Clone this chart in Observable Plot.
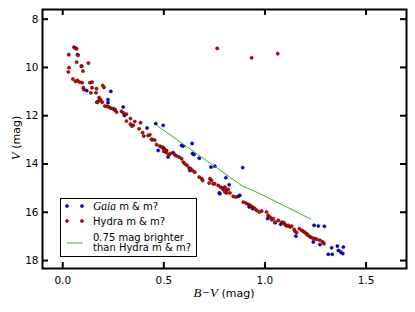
<!DOCTYPE html>
<html>
<head>
<meta charset="utf-8">
<script src="https://cdn.jsdelivr.net/npm/d3@7"></script>
<script src="https://cdn.jsdelivr.net/npm/@observablehq/plot@0.6"></script>
<style>
  html, body { margin: 0; padding: 0; background: #fff; }
  svg { display: block; }
</style>
</head>
<body>
<script>
// Hydra members (B-V, V)
const hydraBV = [0.056,0.063,0.069,0.076,0.030,0.069,0.127,0.093,0.031,0.100,0.028,0.050,0.063,0.073,0.083,0.096,0.134,0.145,0.102,0.105,0.145,0.139,0.167,0.198,0.204,0.165,0.180,0.180,0.170,0.195,0.208,0.228,0.238,0.249,0.257,0.187,0.219,0.259,0.266,0.291,0.299,0.315,0.335,0.356,0.315,0.335,0.348,0.342,0.385,0.378,0.395,0.401,0.422,0.442,0.455,0.431,0.439,0.464,0.480,0.489,0.497,0.500,0.505,0.513,0.500,0.513,0.526,0.533,0.554,0.563,0.576,0.588,0.596,0.604,0.615,0.625,0.632,0.642,0.653,0.675,0.687,0.692,0.728,0.736,0.724,0.744,0.752,0.769,0.781,0.791,0.802,0.810,0.818,0.794,0.802,0.810,0.827,0.843,0.856,0.893,0.906,0.917,0.926,0.934,0.942,0.950,0.959,0.972,0.984,1.008,1.016,1.025,1.033,1.050,1.041,1.066,1.083,1.094,1.099,1.107,1.115,1.124,1.132,1.144,1.149,1.157,1.170,1.182,1.190,1.198,1.206,1.209,1.219,1.226,1.236,1.248,1.256,1.272,1.286,1.292,0.764,0.934,1.063];
const hydraV  = [9.16,9.20,9.23,9.50,9.47,9.78,9.82,9.95,10.01,10.15,10.19,10.48,10.58,10.54,10.61,10.63,10.63,10.61,10.84,10.92,10.84,11.05,10.88,10.75,10.83,11.05,11.25,11.37,11.44,11.44,11.60,11.64,11.69,11.71,11.74,11.33,11.61,11.77,11.85,11.82,11.88,11.93,12.12,12.24,12.22,12.35,12.40,12.43,12.29,12.54,12.70,12.84,12.82,12.99,13.01,12.79,12.98,13.20,13.26,13.30,13.32,13.37,13.40,13.44,13.48,13.53,13.61,13.57,13.61,13.67,13.71,13.78,13.92,13.99,14.06,14.17,14.19,14.27,14.34,14.54,14.61,14.68,14.61,14.68,14.79,14.82,14.82,14.89,14.96,15.00,14.96,15.09,15.05,15.06,15.16,15.20,15.20,15.34,15.37,15.58,15.62,15.67,15.71,15.76,15.81,15.85,15.92,15.99,15.95,15.99,16.13,16.20,16.31,16.41,16.26,16.34,16.41,16.43,16.51,16.57,16.54,16.61,16.57,16.71,16.79,16.84,16.68,16.75,16.79,16.84,16.89,16.93,16.99,17.03,17.07,17.09,17.12,17.16,17.23,17.30,9.21,9.60,9.43];

// Gaia members (B-V, V)
const gaiaBV = [0.073,0.093,0.119,0.238,0.170,0.299,0.224,0.224,0.305,0.307,0.417,0.460,0.497,0.472,0.521,0.546,0.588,0.596,0.640,0.642,0.649,0.675,0.629,0.733,0.752,0.777,0.823,0.890,0.807,0.774,0.868,0.876,0.922,0.939,1.013,1.078,1.050,1.153,1.239,1.272,1.243,1.264,1.294,1.330,1.358,1.388,1.363,1.375,1.385,1.313,1.333];
const gaiaV  = [9.47,9.95,10.96,10.99,11.44,11.64,11.33,11.46,11.99,11.96,12.51,12.33,12.40,13.44,13.71,13.53,13.23,13.26,13.15,13.57,13.61,13.76,14.27,14.13,14.09,15.23,14.86,14.15,14.57,15.20,15.34,15.30,15.78,15.85,16.26,16.50,16.43,16.99,17.23,17.34,16.54,16.57,16.58,17.47,17.40,17.44,17.58,17.65,17.71,17.74,17.74];

// Sequence 0.75 mag brighter than Hydra members
const lineBV = [0.468,0.600,0.728,0.890,0.940,0.975,1.124,1.226];
const lineV  = [12.42,13.20,13.96,14.92,15.10,15.23,15.85,16.28];

const xTicks = [0.0, 0.5, 1.0, 1.5];
const yTicks = [8, 10, 12, 14, 16, 18];

const hydra = hydraBV.map((x, i) => ({x, y: hydraV[i]}));
const gaia = gaiaBV.map((x, i) => ({x, y: gaiaV[i]}));
const seq = lineBV.map((x, i) => ({x, y: lineV[i]}));

const W = 415, H = 312, mL = 42, mR = 9, mT = 9, mB = 44;
const pw = W - mL - mR, ph = H - mT - mB, tk = 6;

const chart = Plot.plot({
  width: W, height: H,
  marginLeft: mL, marginRight: mR, marginTop: mT, marginBottom: mB,
  style: {fontFamily: "DejaVu Sans", fontSize: "10.5px", color: "#000", background: "#fff"},
  x: {domain: [-0.1, 1.7]},
  y: {domain: [7.6, 18.33], reverse: true},
  marks: [
    Plot.axisX(xTicks, {tickSize: 0, tickPadding: 8, tickFormat: d3.format(".1f"), label: null}),
    Plot.axisY(yTicks, {tickSize: 0, tickPadding: 4, label: null}),
    Plot.tickX(xTicks, {x: d => d, insetTop: ph - tk, strokeWidth: 2, stroke: "#000"}),
    Plot.tickX(xTicks, {x: d => d, insetBottom: ph - tk, strokeWidth: 2, stroke: "#000"}),
    Plot.tickY(yTicks, {y: d => d, insetRight: pw - tk, strokeWidth: 2, stroke: "#000"}),
    Plot.tickY(yTicks, {y: d => d, insetLeft: pw - tk, strokeWidth: 2, stroke: "#000"}),
    Plot.dot(gaia, {x: "x", y: "y", r: 1.6, fill: "#0000ee", stroke: "#000030", strokeWidth: 0.5}),
    Plot.dot(hydra, {x: "x", y: "y", r: 1.6, fill: "#dd0000", stroke: "#300000", strokeWidth: 0.5}),
    Plot.line(seq, {x: "x", y: "y", stroke: "#3aaa3a", strokeWidth: 1}),
    Plot.frame({stroke: "#000", strokeWidth: 2})
  ]
});
document.body.appendChild(chart);

const svg = d3.select(chart);
// axis labels
const xl = svg.append("text").attr("x", 224).attr("y", 297).attr("text-anchor", "middle")
  .attr("font-family", "DejaVu Sans").attr("font-size", 11).attr("fill", "#000");
xl.append("tspan").attr("font-family", "Liberation Serif").attr("font-style", "italic").attr("font-size", 13).text("B−V");
xl.append("tspan").text(" (mag)");

const yl = svg.append("text").attr("transform", "translate(20,138) rotate(-90)").attr("text-anchor", "middle")
  .attr("font-family", "DejaVu Sans").attr("font-size", 11).attr("fill", "#000");
yl.append("tspan").attr("font-family", "Liberation Serif").attr("font-style", "italic").attr("font-size", 13).text("V");
yl.append("tspan").text(" (mag)");

// legend
const lg = svg.append("g").attr("text-anchor", "start");
lg.append("rect").attr("x", 60.5).attr("y", 198.5).attr("width", 136).attr("height", 58)
  .attr("fill", "#fff").attr("stroke", "#000").attr("stroke-width", 1);
[67, 82].forEach(cx => {
  lg.append("circle").attr("cx", cx).attr("cy", 206).attr("r", 1.6).attr("fill", "#0000ee").attr("stroke", "#000030").attr("stroke-width", 0.5);
  lg.append("circle").attr("cx", cx).attr("cy", 221).attr("r", 1.6).attr("fill", "#dd0000").attr("stroke", "#300000").attr("stroke-width", 0.5);
});
lg.append("line").attr("x1", 67).attr("x2", 83).attr("y1", 243).attr("y2", 243).attr("stroke", "#3aaa3a").attr("stroke-width", 1);
const txt = (y) => lg.append("text").attr("x", 93).attr("y", y).attr("text-anchor", "start")
  .attr("font-family", "DejaVu Sans").attr("font-size", 10).attr("fill", "#000");
const t1 = txt(210);
t1.append("tspan").attr("font-family", "Liberation Serif").attr("font-style", "italic").attr("font-size", 11.5).text("Gaia");
t1.append("tspan").text(" m & m?");
txt(225).text("Hydra m & m?");
txt(240.5).text("0.75 mag brighter");
txt(251).text("than Hydra m & m?");
</script>
</body>
</html>
